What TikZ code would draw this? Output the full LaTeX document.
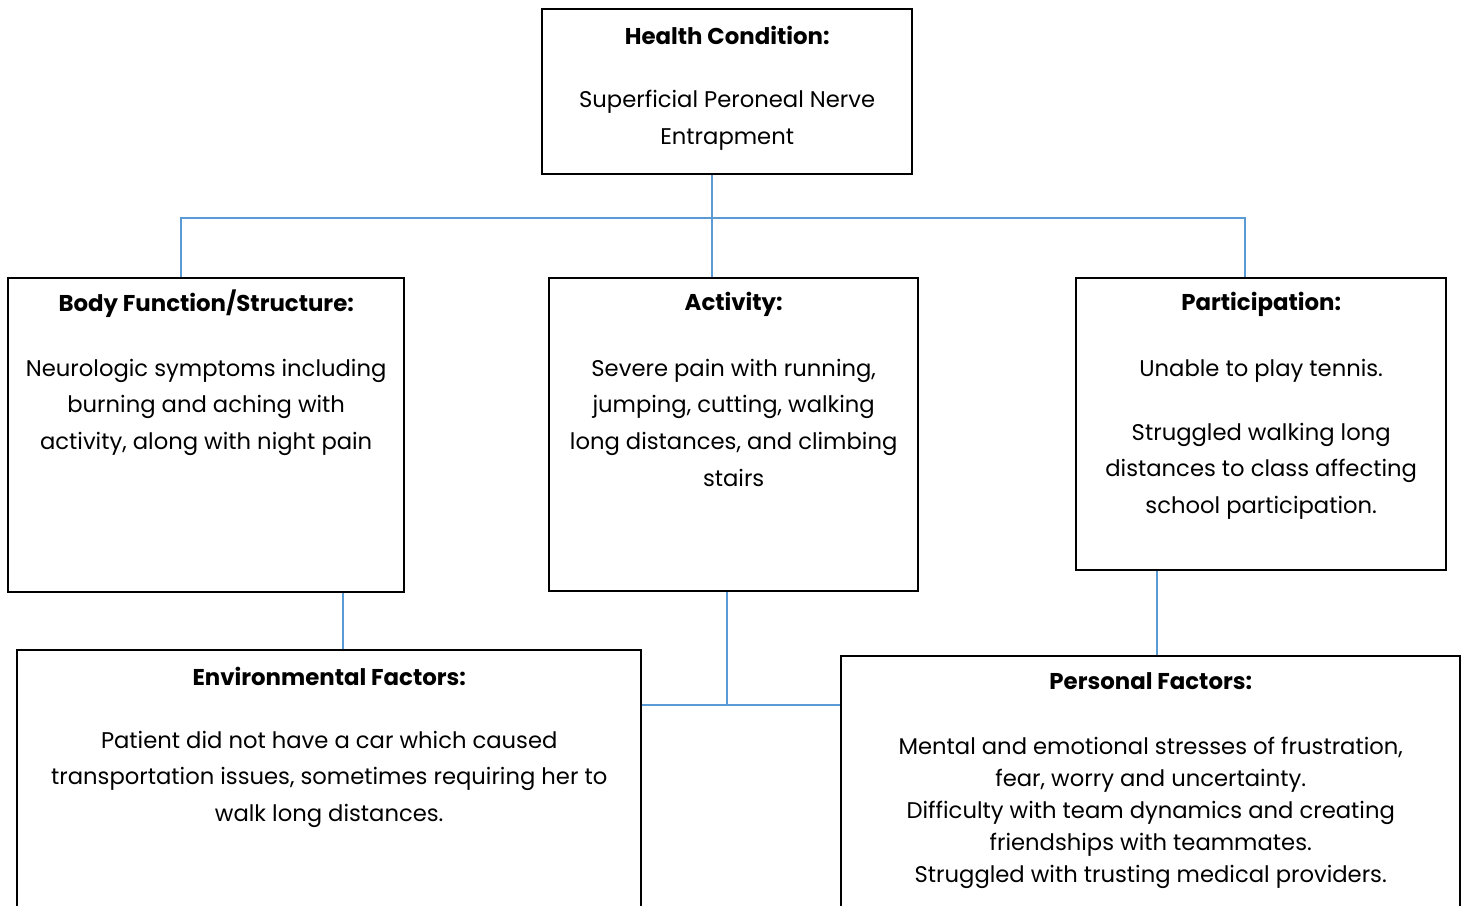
\documentclass[tikz,border=0pt]{standalone}
\usepackage{fontspec}
\setmainfont{Poppins}
\usetikzlibrary{positioning}

\definecolor{linkblue}{HTML}{5B9BD5}

\tikzset{
	box/.style={draw=black, line width=0.6pt, anchor=north west, inner sep=0pt},
	title/.style={font=\fontsize{6.5}{10.5}\selectfont\bfseries, inner sep=0pt},
	body/.style={font=\fontsize{6.45}{10.5}\selectfont, align=center, anchor=north, inner sep=0pt},
	link/.style={draw=linkblue, line width=0.5pt}
}

\begin{document}
\begin{tikzpicture}[x=0.01cm, y=-0.01cm]
		\useasboundingbox (0,0) rectangle (1461,905);
		\clip (0,0) rectangle (1461,905);

		% boxes
		\node[box, minimum width=3.70cm, minimum height=1.65cm] (health) at (541,8) {};
		\node[box, minimum width=3.96cm, minimum height=3.14cm] (body) at (7,277) {};
		\node[box, minimum width=3.69cm, minimum height=3.13cm] (act) at (548,277) {};
		\node[box, minimum width=3.70cm, minimum height=2.92cm] (part) at (1075,277) {};
		\node[box, minimum width=6.24cm, minimum height=3.00cm] (env) at (16,649) {};
		\node[box, minimum width=6.19cm, minimum height=3.00cm] (pers) at (840,655) {};

		% titles
		\node[title] (healthT) at ([yshift=-0.27cm]health.north) {Health Condition:};
		\node[title] (bodyT) at ([yshift=-0.27cm]body.north) {Body Function/Structure:};
		\node[title] (actT) at ([yshift=-0.27cm]act.north) {Activity:};
		\node[title] (partT) at ([yshift=-0.27cm]part.north) {Participation:};
		\node[title] (envT) at ([yshift=-0.27cm]env.north) {Environmental Factors:};
		\node[title] (persT) at ([yshift=-0.26cm]pers.north) {Personal Factors:};

		% texts
		\node[body] (healthB) at ([yshift=-0.81cm]health.north) {Superficial Peroneal Nerve\\Entrapment};
		\node[body] (bodyB) at ([yshift=-0.81cm]body.north) {Neurologic symptoms including\\burning and aching with\\activity, along with night pain};
		\node[body] (actB) at ([yshift=-0.81cm]act.north) {Severe pain with running,\\jumping, cutting, walking\\long distances, and climbing\\stairs};
		\node[body] (partB) at ([yshift=-0.81cm]part.north) {Unable to play tennis.\\[7.7pt]Struggled walking long\\distances to class affecting\\school participation.};
		\node[body] (envB) at ([yshift=-0.81cm]env.north) {Patient did not have a car which caused\\transportation issues, sometimes requiring her to\\walk long distances.};
		\node[body, font=\fontsize{6.45}{9.1}\selectfont] (persB) at ([yshift=-0.81cm]pers.north) {Mental and emotional stresses of frustration,\\fear, worry and uncertainty.\\Difficulty with team dynamics and creating\\friendships with teammates.\\Struggled with trusting medical providers.};

		% connectors
		\coordinate (split) at (712,218);
		\coordinate (hl) at (181,218);
		\coordinate (hr) at (1245,218);
		\coordinate (envlink) at (343,620);
		\coordinate (join) at (727,705);
		\coordinate (perslink) at (1157,610);

		\draw[link] (health.south -| split) -- (act.north -| split);
		\draw[link] (body.north -| hl) -- (hl) -- (hr) -- (part.north -| hr);
		\draw[link] (body.south -| envlink) -- (env.north -| envlink);
		\draw[link] (act.south -| join) -- (join);
		\draw[link] (env.east |- join) -- (pers.west |- join);
		\draw[link] (part.south -| perslink) -- (pers.north -| perslink);
	\end{tikzpicture}
\end{document}
